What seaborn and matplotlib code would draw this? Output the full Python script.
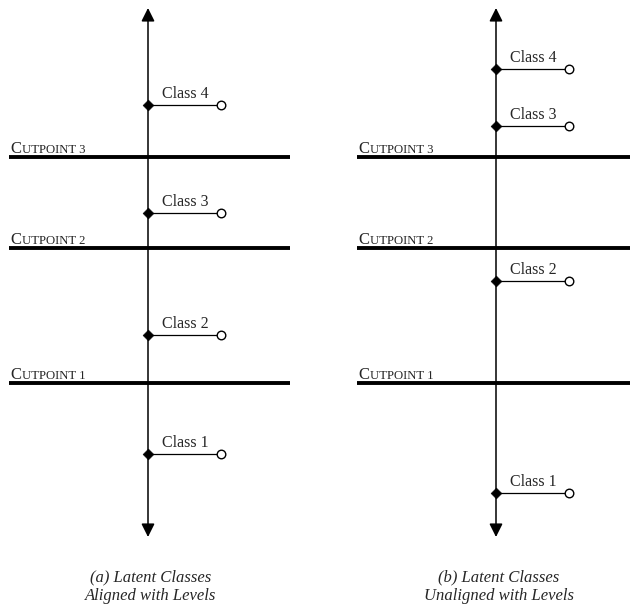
import matplotlib.pyplot as plt
import matplotlib.transforms as mtransforms
import seaborn as sns
import pandas as pd

# latent scale (page units, origin bottom-left)
cutpoints = [226, 361, 452]
cut_names = ["1", "2", "3"]
class_names = ["Class 1", "Class 2", "Class 3", "Class 4"]
aligned_y = [155, 274, 396, 504]
unaligned_y = [116, 328, 483, 540]
captions = ["(a) Latent Classes\nAligned with Levels",
            "(b) Latent Classes\nUnaligned with Levels"]

sns.set_style("white")
plt.rcParams["font.family"] = ["Liberation Serif", "DejaVu Serif"]

fig = plt.figure(figsize=(6.3, 6.09), dpi=100)
ax = fig.add_axes([0, 0, 1, 1])
ax.set_xlim(0, 630)
ax.set_ylim(0, 609)
ax.axis("off")

panels = [(148, 9, 290, aligned_y, captions[0]),
          (496, 357, 632, unaligned_y, captions[1])]

for x0, cx0, cx1, ys, cap in panels:
    # cutpoint lines
    ax.hlines(cutpoints, cx0, cx1, color="black", lw=2.8, zorder=1)
    for c, name in zip(cutpoints, cut_names):
        ax.text(cx0 + 1, c + 4, "C", fontsize=12, va="baseline", ha="left")
        off = mtransforms.offset_copy(ax.transData, fig=fig, x=8.3, y=0, units="points")
        ax.text(cx0 + 1, c + 4, "UTPOINT " + name, fontsize=9.2,
                va="baseline", ha="left", transform=off)
    # latent axis with arrows
    ax.annotate("", xy=(x0, 601), xytext=(x0, 72),
                arrowprops=dict(arrowstyle="<|-|>", color="black", lw=1.1,
                                mutation_scale=20, shrinkA=0, shrinkB=0),
                zorder=2)
    df = pd.DataFrame({"y": ys, "name": class_names})
    ax.hlines(df["y"], x0, x0 + 73, color="black", lw=0.9, zorder=2)
    sns.scatterplot(x=[x0] * len(df), y=df["y"], ax=ax, marker="D", s=30,
                    color="black", edgecolor="black", zorder=3, legend=False)
    sns.scatterplot(x=[x0 + 73] * len(df), y=df["y"], ax=ax, marker="o", s=38,
                    facecolor="white", edgecolor="black", linewidth=1.0,
                    zorder=3, legend=False)
    for yv, nm in zip(df["y"], df["name"]):
        ax.text(x0 + 37, yv + 3, nm, fontsize=11.5, ha="center", va="bottom")
    ax.text(x0 + 3, 22, cap, fontsize=12, style="italic", ha="center",
            va="center", linespacing=1.2)

fig.savefig("out.png", dpi=100)
